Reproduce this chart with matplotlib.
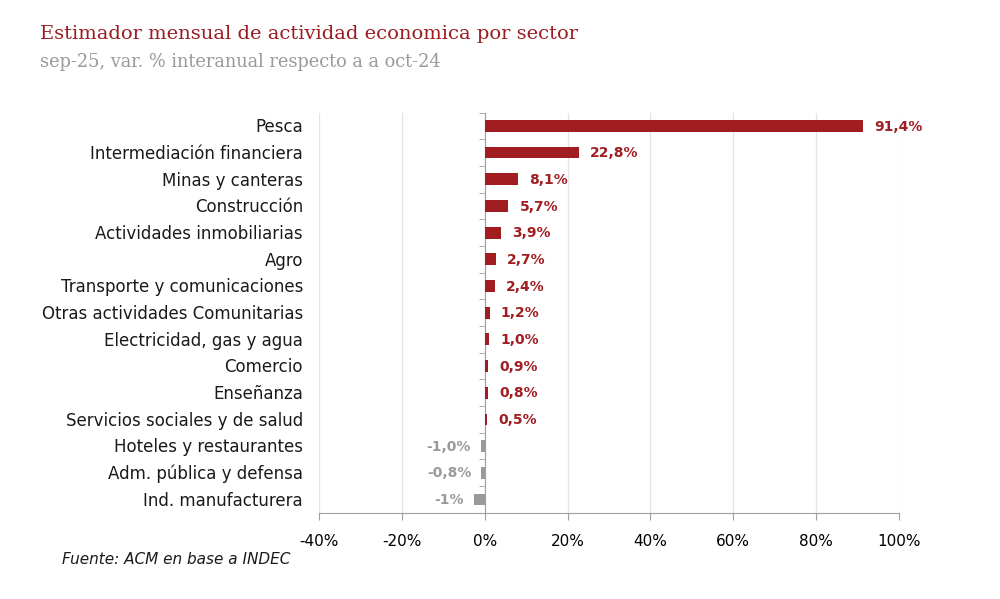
import matplotlib
matplotlib.use('Agg')
from matplotlib import pyplot as plt
from matplotlib import transforms
import numpy as np

# datos (de arriba hacia abajo)
sectores = ['Pesca', 'Intermediación financiera', 'Minas y canteras', 'Construcción',
            'Actividades inmobiliarias', 'Agro', 'Transporte y comunicaciones',
            'Otras actividades Comunitarias', 'Electricidad, gas y agua', 'Comercio',
            'Enseñanza', 'Servicios sociales y de salud', 'Hoteles y restaurantes',
            'Adm. pública y defensa', 'Ind. manufacturera']
valores = [91.4, 22.8, 8.1, 5.7, 3.9, 2.7, 2.4, 1.2, 1.0, 0.9, 0.8, 0.5, -1.0, -0.8, -2.7]
etiquetas = ['91,4%', '22,8%', '8,1%', '5,7%', '3,9%', '2,7%', '2,4%', '1,2%', '1,0%',
             '0,9%', '0,8%', '0,5%', '-1,0%', '-0,8%', '-1%']
xticks = [-40, -20, 0, 20, 40, 60, 80, 100]

ROJO = '#A01E22'
GRIS = '#9A9A9A'

fig = plt.figure(figsize=(10, 5.99), dpi=100)
ax = fig.add_axes([0.319, 0.144, 0.580, 0.668])

y = np.arange(len(sectores))
colores = [ROJO if v >= 0 else GRIS for v in valores]
ax.barh(y, valores, height=0.44, color=colores, zorder=3)

for yi, v, lab, c in zip(y, valores, etiquetas, colores):
    if v >= 0:
        ax.annotate(lab, (v, yi), xytext=(8, -0.5), textcoords='offset points',
                    ha='left', va='center', fontsize=10, fontweight='bold', color=c)
    else:
        ax.annotate(lab, (v, yi), xytext=(-7, -0.5), textcoords='offset points',
                    ha='right', va='center', fontsize=10, fontweight='bold', color=c)

ax.set_xlim(-40, 100)
ax.set_ylim(len(sectores) - 0.5, -0.5)
ax.set_xticks(xticks)
ax.set_xticklabels([f'{t}%' for t in xticks], fontsize=11)
ax.xaxis.grid(True, color='#E3E3E3', linewidth=0.9, zorder=0)

# eje de categorias en el cero, con marcas entre barras
ax.set_yticks([])
ax.spines['left'].set_position(('data', 0))
ax.spines['left'].set_color('#A0A0A0')
ax.spines['bottom'].set_color('#A0A0A0')
ax.spines['top'].set_visible(False)
ax.spines['right'].set_visible(False)
ax.set_yticks(np.arange(-0.5, len(sectores), 1), minor=True)
ax.tick_params(axis='y', which='minor', length=4, color='#A0A0A0', direction='out')
ax.tick_params(axis='x', length=5, color='#A0A0A0', pad=10)

# nombres de sector a la izquierda del area del grafico
trans = transforms.blended_transform_factory(fig.transFigure, ax.transData)
for yi, s in zip(y, sectores):
    ax.text(0.303, yi + 0.05, s, transform=trans, ha='right', va='center',
            fontsize=12, color='#1a1a1a')

fig.text(0.040, 0.935, 'Estimador mensual de actividad economica por sector',
         family='DejaVu Serif', fontsize=14, color='#9B1B20', va='baseline')
fig.text(0.040, 0.888, 'sep-25, var. % interanual respecto a a oct-24',
         family='DejaVu Serif', fontsize=12.8, color='#9A9A9A', va='baseline')
fig.text(0.062, 0.058, 'Fuente: ACM en base a INDEC', fontsize=11, style='italic',
         color='#1a1a1a')

fig.savefig('out.png', dpi=100, facecolor='white')
